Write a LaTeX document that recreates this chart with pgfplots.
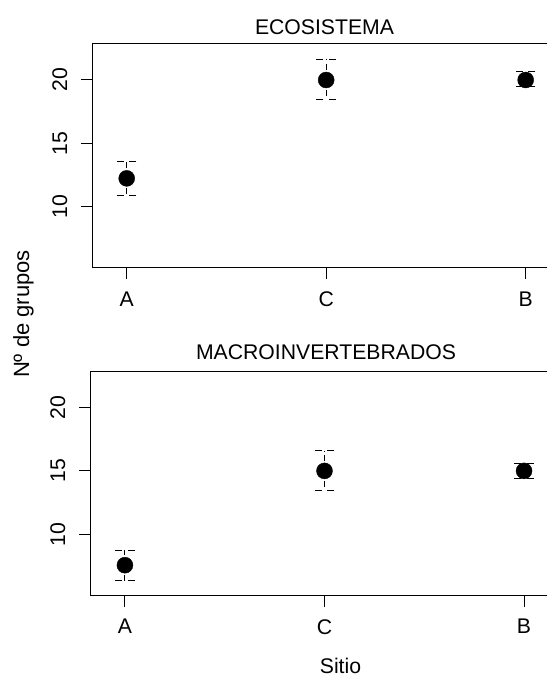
\documentclass[border=0pt]{standalone}
\usepackage{fontspec}
\setmainfont{Liberation Sans}
\usepackage{pgfplots}
\pgfplotsset{compat=1.18}
\pgfplotsset{
 myax/.style={
  scale only axis, height=224pt,
  anchor=south west,
  ymin=5.17, ymax=22.84,
  xtick={0,1,2}, xticklabels={A,C,B},
  ytick={10,15,20},
  tick pos=left, tick align=outside,
  major tick length=11pt,
  tick style={black, line width=1pt},
  axis line style={draw=none},
  /pgf/number format/assume math mode=true,
  tick label style={font=\fontsize{21.2}{25}\selectfont},
  xticklabel style={anchor=north, inner sep=0pt},
  yticklabel style={rotate=90, anchor=south, inner sep=0pt},
  xticklabel shift=12.5pt, yticklabel shift=13.5pt,
  clip=false,
 },
 ptstyle/.style={only marks, black, mark=*, mark size=8pt, mark options={fill=black, solid},
  error bars/.cd, y dir=both, y explicit, error mark=none,
  error bar style={line width=1pt, dash pattern=on 6pt off 4pt}},
 capstyle/.style={only marks, black, mark=-, mark size=9.75pt,
  mark options={line width=1pt, dash pattern=on 7pt off 5.5pt}},
}
\begin{document}
\fontsize{21.2}{25}\selectfont
\begin{tikzpicture}[x=1pt,y=1pt]
\path[use as bounding box] (0,0) rectangle (547,680);
% top panel
\begin{axis}[myax, at={(92pt,412pt)}, width=455pt, xmin=-0.174, xmax=2.107]
\addplot[ptstyle] coordinates {
 (0,12.24) += (0,1.31) -= (0,1.37)
 (1,20.0) += (0,1.63) -= (0,1.52)
 (2,20.0) += (0,0.65) -= (0,0.53)
};
\addplot[capstyle] coordinates {
 (0,13.55) (0,10.87)
 (1,21.63) (1,18.48)
 (2,20.65) (2,19.47)
};
\draw[line width=1pt, line join=miter] (rel axis cs:1,1) -- (rel axis cs:0,1) -- (rel axis cs:0,0) -- (rel axis cs:1,0);
\end{axis}
% bottom panel
\begin{axis}[myax, at={(90pt,84.5pt)}, width=457pt, xmin=-0.175, xmax=2.115]
\addplot[ptstyle] coordinates {
 (0,7.56) += (0,1.18) -= (0,1.23)
 (1,15.0) += (0,1.58) -= (0,1.54)
 (2,15.0) += (0,0.60) -= (0,0.58)
};
\addplot[capstyle] coordinates {
 (0,8.74) (0,6.33)
 (1,16.58) (1,13.46)
 (2,15.60) (2,14.42)
};
\draw[line width=1pt, line join=miter] (rel axis cs:1,1) -- (rel axis cs:0,1) -- (rel axis cs:0,0) -- (rel axis cs:1,0);
\end{axis}
\node[anchor=base, inner sep=0pt] at (324.5,645) {ECOSISTEMA};
\node[anchor=base, inner sep=0pt] at (326,320) {MACROINVERTEBRADOS};
\node[anchor=base, inner sep=0pt] at (340.5,6) {Sitio};
\node[anchor=base, rotate=90, inner sep=0pt, font=\fontsize{22}{26}\selectfont] at (29,366) {Nº de grupos};
\end{tikzpicture}
\end{document}
